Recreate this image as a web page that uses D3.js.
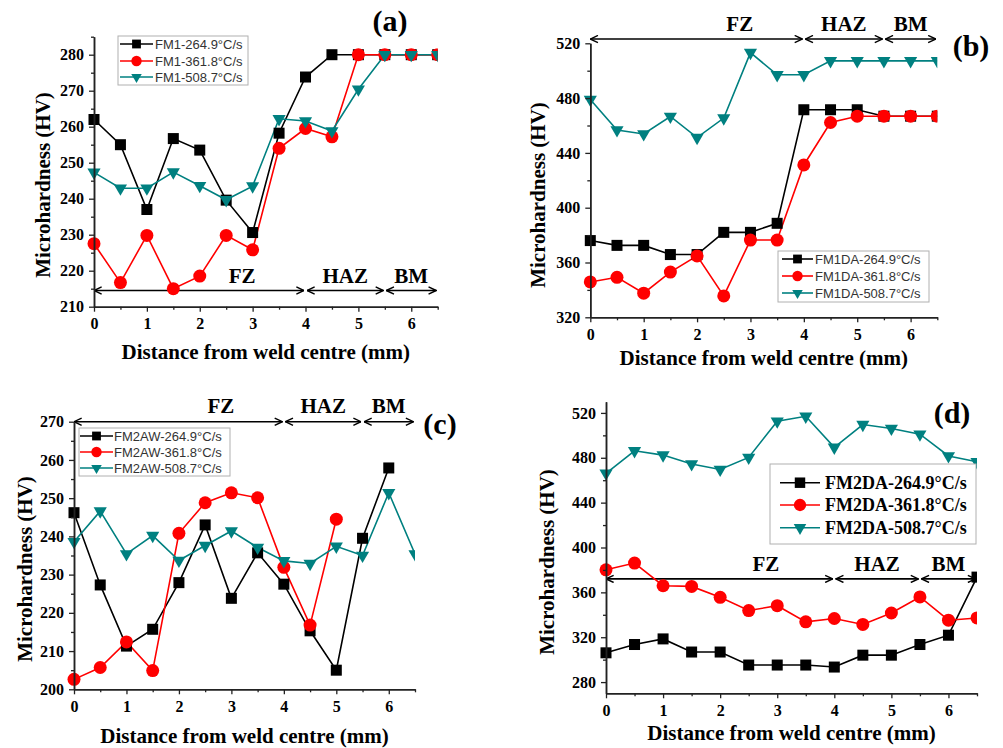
<!DOCTYPE html>
<html>
<head>
<meta charset="utf-8">
<script src="https://cdn.jsdelivr.net/npm/d3@7/dist/d3.min.js"></script>
<style>
  body { margin: 0; background: #fff; }
</style>
</head>
<body>
<script>
/* DATA */
// distance from weld centre (mm)
var dist = [0, 0.5, 1, 1.5, 2, 2.5, 3, 3.5, 4, 4.5, 5, 5.5, 6, 6.5];
var xTickVals = [0, 1, 2, 3, 4, 5, 6];
var xMinorVals = [0.5, 1.5, 2.5, 3.5, 4.5, 5.5, 6.5];

var rateLabels = ['264.9°C/s', '361.8°C/s', '508.7°C/s'];
var zoneNames = ['FZ', 'HAZ', 'BM'];
var zoneBounds = [0, 4, 5.5, 6.5];

// (a) FM1
var fm1_264 = [262, 255, 237, 256.7, 253.5, 239.6, 230.6, 258.2, 273.8, 280, 280, 280, 280, 280];
var fm1_361 = [227.5, 216.7, 229.8, 215, 218.5, 229.8, 225.8, 254, 259.5, 257.2, 280, 280, 280, 280];
var fm1_508 = [247.3, 242.9, 242.9, 247.4, 243.6, 239.7, 243.5, 262.2, 261.6, 258.8, 270.4, 280, 280, 280];

// (b) FM1DA
var fm1da_264 = [376, 372.5, 372.5, 365.8, 365.8, 382, 382, 388.6, 471.5, 471.5, 471.5, 466.8, 466.8, 466.8];
var fm1da_361 = [345.8, 349.2, 337.6, 353, 364.8, 335.6, 376.4, 376.4, 431.2, 462.2, 466.8, 466.8, 466.8, 466.8];
var fm1da_508 = [479, 456.7, 453.8, 466.6, 451.2, 465.4, 513.2, 497, 497, 507.2, 507.2, 507.2, 507.2, 507.2];

// (c) FM2AW
var fm2aw_264 = [246.2, 227.3, 211.3, 215.7, 227.9, 243, 223.8, 235.7, 227.5, 215.3, 205, 239.5, 257.9];
var fm2aw_361 = [202.6, 205.7, 212.4, 204.9, 240.8, 248.8, 251.4, 250.1, 231.9, 216.8, 244.5];
var fm2aw_508 = [238.6, 246.6, 235.4, 240.2, 233.7, 237.6, 241.4, 237.1, 233.6, 232.9, 237.4, 235, 251.4, 235.4];

// (d) FM2DA
var fm2da_264 = [306.1, 313.5, 318.5, 306.8, 306.8, 295.2, 295.2, 295.2, 293.4, 304, 304, 313.5, 321.8, 373.6];
var fm2da_361 = [380.1, 386.1, 365.9, 365.3, 355.6, 343.8, 348.1, 333.7, 336.7, 331.4, 341.6, 355.9, 335.2, 337.2];
var fm2da_508 = [466.2, 486.2, 482.4, 474.5, 469.6, 480.3, 512.6, 517, 489.3, 509.6, 506.1, 501, 481.6, 476.4];

// y tick labels
var yTicksA = [210, 220, 230, 240, 250, 260, 270, 280];
var yTicksB = [320, 360, 400, 440, 480, 520];
var yTicksC = [200, 210, 220, 230, 240, 250, 260, 270];
var yTicksD = [280, 320, 360, 400, 440, 480, 520];

/* STYLE */
var colors = ['#000000', '#ff0000', '#008080'];
var serif = '"Liberation Serif", "Times New Roman", serif';
var sans = '"Liberation Sans", Arial, sans-serif';

/* PANELS (layout) */
var panels = [
  { id: 'a', left: 94, right: 437.7, top: 36.7, bottom: 306.7, yDomain: [210, 285],
    yTicks: yTicksA, yMinor: d3.range(215, 286, 10),
    series: [fm1_264, fm1_361, fm1_508], prefix: 'FM1-',
    arrowY: 214.5, zoneBase: 283,
    tag: { x: 390, y: 31 },
    yTitle: { x: 43, y: 185 }, xTitleY: 359,
    legend: { x: 118, y: 36, w: 130, h: 49, rows: [44, 61, 77], lx0: 120, lx1: 153, tx: 155, bold: false, size: 13 },
    sym: 1 },
  { id: 'b', left: 590.3, right: 937.3, top: 43.3, bottom: 317.3, yDomain: [320, 520],
    yTicks: yTicksB, yMinor: d3.range(340, 520, 40),
    series: [fm1da_264, fm1da_361, fm1da_508], prefix: 'FM1DA-',
    arrowY: 523.1, zoneBase: 31,
    tag: { x: 971, y: 56 },
    yTitle: { x: 538, y: 195 }, xTitleY: 365,
    legend: { x: 778, y: 251, w: 151, h: 51, rows: [259, 276, 293], lx0: 782, lx1: 813, tx: 815, bold: false, size: 13 },
    sym: 1 },
  { id: 'c', left: 74, right: 415, top: 421.7, bottom: 689.3, yDomain: [200, 270],
    yTicks: yTicksC, yMinor: d3.range(205, 270, 10),
    series: [fm2aw_264, fm2aw_361, fm2aw_508], prefix: 'FM2AW-',
    arrowY: 270, zoneBase: 413,
    tag: { x: 440, y: 434 },
    yTitle: { x: 25, y: 569 }, xTitleY: 743,
    legend: { x: 79, y: 428, w: 151, h: 48, rows: [436, 452, 468], lx0: 80, lx1: 113, tx: 114, bold: false, size: 13 },
    sym: 1 },
  { id: 'd', left: 606, right: 977, top: 401.7, bottom: 693.3, yDomain: [270, 530],
    yTicks: yTicksD, yMinor: d3.range(300, 530, 40),
    series: [fm2da_264, fm2da_361, fm2da_508], prefix: 'FM2DA-',
    arrowY: 372, zoneBase: 571,
    tag: { x: 952, y: 423 },
    yTitle: { x: 547, y: 562 }, xTitleY: 740,
    legend: { x: 770, y: 464, w: 206, h: 80, rows: [482.7, 505, 527.7], lx0: 780, lx1: 820, tx: 825, bold: true, size: 18 },
    sym: 1 }
];

var svg = d3.select('body').append('svg')
    .attr('width', 1003)
    .attr('height', 748)
    .style('display', 'block');

svg.append('rect').attr('width', 1003).attr('height', 748).attr('fill', '#fff');

var defs = svg.append('defs');
// open arrow head for zone spans
defs.append('marker')
    .attr('id', 'openArrow')
    .attr('viewBox', '0 0 10 10')
    .attr('refX', 9.5)
    .attr('refY', 5)
    .attr('markerWidth', 9)
    .attr('markerHeight', 9)
    .attr('markerUnits', 'userSpaceOnUse')
    .attr('orient', 'auto-start-reverse')
    .append('path')
    .attr('d', 'M1,1 L9.5,5 L1,9')
    .attr('fill', 'none')
    .attr('stroke', '#000')
    .attr('stroke-width', 1.6);

// marker shapes: square, circle, down triangle
function drawMarker(sel, kind, cx, cy, scale) {
  var s = scale || 1;
  if (kind === 0) {
    sel.append('rect')
      .attr('x', cx - 5.5 * s).attr('y', cy - 5.5 * s)
      .attr('width', 11 * s).attr('height', 11 * s)
      .attr('fill', colors[0]);
  } else if (kind === 1) {
    sel.append('circle')
      .attr('cx', cx).attr('cy', cy).attr('r', 6.5 * s)
      .attr('fill', colors[1]);
  } else {
    var tri = d3.symbol().type(d3.symbolTriangle).size(75 * s * s);
    sel.append('path')
      .attr('d', tri())
      .attr('transform', 'translate(' + cx + ',' + cy + ') rotate(180)')
      .attr('fill', colors[2]);
  }
}

panels.forEach(function (p) {
  var g = svg.append('g').attr('class', 'panel-' + p.id);

  var x = d3.scaleLinear().domain([0, 6.5]).range([p.left, p.right]);
  var y = d3.scaleLinear().domain(p.yDomain).range([p.bottom, p.top]);

  defs.append('clipPath').attr('id', 'clip-' + p.id)
    .append('rect')
    .attr('x', p.left - 30).attr('y', p.top - 30)
    .attr('width', p.right - p.left + 30)
    .attr('height', p.bottom - p.top + 40);

  // zone arrows
  var zoneG = g.append('g');
  for (var i = 0; i < 3; i++) {
    var xa = x(zoneBounds[i]) + (i === 0 ? 0 : 1.5);
    var xb = x(zoneBounds[i + 1]) - (i === 2 ? 1.5 : 1.5);
    zoneG.append('line')
      .attr('x1', xa).attr('x2', xb)
      .attr('y1', y(p.arrowY)).attr('y2', y(p.arrowY))
      .attr('stroke', '#000').attr('stroke-width', 1.6)
      .attr('marker-start', 'url(#openArrow)')
      .attr('marker-end', 'url(#openArrow)');
  }
  var zoneCentres = [2.8, 4.75, 6.0];
  zoneNames.forEach(function (z, i) {
    zoneG.append('text')
      .attr('x', x(zoneCentres[i])).attr('y', p.zoneBase)
      .attr('text-anchor', 'middle')
      .style('font', 'bold 21px ' + serif)
      .text(z);
  });

  // series
  var plot = g.append('g').attr('clip-path', 'url(#clip-' + p.id + ')');
  var line = d3.line().x(function (d, i) { return x(dist[i]); }).y(function (d) { return y(d); });
  p.series.forEach(function (vals, k) {
    plot.append('path')
      .attr('d', line(vals))
      .attr('fill', 'none')
      .attr('stroke', colors[k])
      .attr('stroke-width', 1.6);
  });
  p.series.forEach(function (vals, k) {
    var mg = plot.append('g');
    vals.forEach(function (v, i) { drawMarker(mg, k, x(dist[i]), y(v)); });
  });

  // axes
  var axStyle = function (a) {
    a.select('.domain').attr('stroke', '#222').attr('stroke-width', 1.5);
    a.selectAll('.tick line').attr('stroke', '#222').attr('stroke-width', 1.3);
    a.selectAll('.tick text')
      .style('font', 'bold 16px ' + serif)
      .attr('fill', '#000');
  };
  g.append('g')
    .attr('transform', 'translate(0,' + p.bottom + ')')
    .call(d3.axisBottom(x).tickValues(xMinorVals).tickSize(3).tickSizeOuter(0).tickFormat(''))
    .call(axStyle);
  g.append('g')
    .attr('transform', 'translate(0,' + p.bottom + ')')
    .call(d3.axisBottom(x).tickValues(xTickVals).tickSize(5).tickSizeOuter(0).tickPadding(6).tickFormat(d3.format('d')))
    .call(axStyle);
  g.append('g')
    .attr('transform', 'translate(' + p.left + ',0)')
    .call(d3.axisLeft(y).tickValues(p.yMinor).tickSize(3).tickSizeOuter(0).tickFormat(''))
    .call(axStyle);
  g.append('g')
    .attr('transform', 'translate(' + p.left + ',0)')
    .call(d3.axisLeft(y).tickValues(p.yTicks).tickSize(5).tickSizeOuter(0).tickPadding(5).tickFormat(d3.format('d')))
    .call(axStyle);

  // axis titles
  g.append('text')
    .attr('transform', 'translate(' + p.yTitle.x + ',' + p.yTitle.y + ') rotate(-90)')
    .attr('text-anchor', 'middle')
    .attr('dominant-baseline', 'central')
    .style('font', 'bold 21px ' + serif)
    .text('Microhardness (HV)');
  g.append('text')
    .attr('x', (p.left + p.right) / 2).attr('y', p.xTitleY)
    .attr('text-anchor', 'middle')
    .style('font', 'bold 21px ' + serif)
    .text('Distance from weld centre (mm)');

  // panel tag
  g.append('text')
    .attr('x', p.tag.x).attr('y', p.tag.y)
    .attr('text-anchor', 'middle')
    .style('font', 'bold 30px ' + serif)
    .text('(' + p.id + ')');

  // legend
  var L = p.legend;
  var lg = g.append('g');
  lg.append('rect')
    .attr('x', L.x).attr('y', L.y).attr('width', L.w).attr('height', L.h)
    .attr('fill', '#fff').attr('stroke', '#b0b0b0').attr('stroke-width', 1);
  rateLabels.forEach(function (lab, k) {
    var ry = L.rows[k];
    lg.append('line')
      .attr('x1', L.lx0).attr('x2', L.lx1).attr('y1', ry).attr('y2', ry)
      .attr('stroke', colors[k]).attr('stroke-width', 1.6);
    drawMarker(lg, k, (L.lx0 + L.lx1) / 2, ry, L.bold ? 0.95 : 0.8);
    lg.append('text')
      .attr('x', L.tx).attr('y', ry)
      .attr('dominant-baseline', 'central')
      .attr('fill', L.bold ? '#000' : '#333')
      .style('font', (L.bold ? 'bold ' : '') + L.size + 'px ' + (L.bold ? serif : sans))
      .text(p.prefix + lab);
  });
});
</script>
</body>
</html>
